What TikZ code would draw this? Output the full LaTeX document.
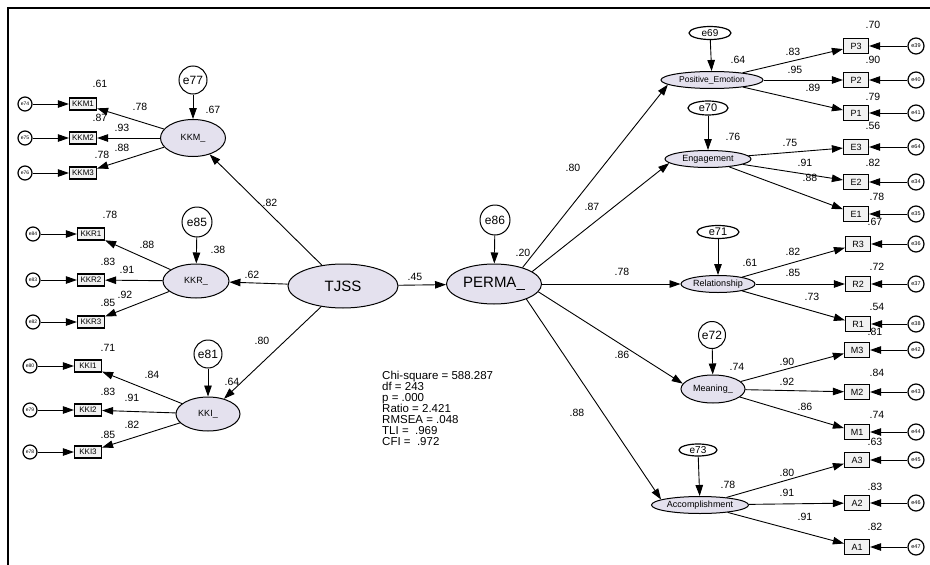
\documentclass[tikz,border=0pt]{standalone}
\usepackage{fontspec}
\setmainfont{Liberation Sans}
\usetikzlibrary{shapes.geometric}
\usetikzlibrary{arrows.meta}
\usetikzlibrary{positioning}
\definecolor{latfill}{RGB}{228,225,238}
\definecolor{boxfill}{RGB}{242,242,242}
\newcommand{\fsz}[2]{\fontsize{#1}{#2}\selectfont}

\begin{document}
\begin{tikzpicture}[x=1pt,y=-1pt,
	latent/.style={draw,ellipse,fill=latfill,line width=1pt,inner sep=0pt,font=\fsz{9}{9}},
	indl/.style={draw,rectangle,fill=boxfill,line width=1.2pt,minimum width=27pt,minimum height=12pt,inner sep=0pt,font=\fsz{8}{8}},
	indr/.style={draw,rectangle,fill=boxfill,line width=1.2pt,minimum width=25pt,minimum height=15pt,inner sep=0pt,font=\fsz{9}{9}},
	errc/.style={draw,circle,fill=white,line width=1.2pt,minimum size=14pt,inner sep=0pt,font=\fsz{5}{5}},
	errbig/.style={draw,circle,fill=white,line width=1pt,inner sep=0pt,font=\fsz{12}{12}},
	erre/.style={draw,ellipse,fill=white,line width=1.2pt,inner sep=0pt,font=\fsz{10}{10}},
	arr/.style={-{Triangle[length=11pt,width=7.5pt]},line width=0.9pt},
	lbl/.style={font=\fsz{10.5}{10.5},inner sep=0pt}]
			\useasboundingbox (0,0) rectangle (930,565);
			\fill[white] (0,0) rectangle (930,565);
			\draw[line width=1.6pt] (8,565) -- (8,8) -- (930,8);
			
			% latent variables
			\node[latent,minimum width=110pt,minimum height=44pt,font=\fsz{15}{15}] (TJSS) at (343,286) {TJSS};
			\node[latent,minimum width=95pt,minimum height=40pt,font=\fsz{15}{15}] (PERMA) at (494,284) {PERMA\_};
			\node[latent,minimum width=65pt,minimum height=37pt] (KKM) at (193,138) {KKM\_};
			\node[latent,minimum width=66pt,minimum height=34pt] (KKR) at (196,281) {KKR\_};
			\node[latent,minimum width=64pt,minimum height=34pt] (KKI) at (208,414) {KKI\_};
			\node[latent,minimum width=102pt,minimum height=17pt,font=\fsz{8.5}{8.5}] (PE) at (712,80) {Positive\_Emotion};
			\node[latent,minimum width=86pt,minimum height=17pt] (EN) at (708,159) {Engagement};
			\node[latent,minimum width=74pt,minimum height=17pt] (RE) at (718,284) {Relationship};
			\node[latent,minimum width=64pt,minimum height=28pt] (ME) at (713,389) {Meaning\_};
			\node[latent,minimum width=97pt,minimum height=17pt] (AC) at (700,505) {Accomplishment};
			
			% residuals of the latent variables
			\node[errbig,minimum size=28pt] (e77) at (193,80) {e77};
			\node[errbig,minimum size=30pt] (e85) at (197,222) {e85};
			\node[errbig,minimum size=28pt] (e81) at (208,354) {e81};
			\node[errbig,minimum size=30pt] (e86) at (495,220) {e86};
			\node[errbig,minimum size=27pt] (e72) at (712,335) {e72};
			\node[erre,minimum width=42pt,minimum height=13pt] (e69) at (710,33) {e69};
			\node[erre,minimum width=40pt,minimum height=14pt,font=\fsz{11}{11}] (e70) at (708,108) {e70};
			\node[erre,minimum width=42pt,minimum height=13pt,font=\fsz{11}{11}] (e71) at (718,232) {e71};
			\node[erre,minimum width=38pt,minimum height=12pt] (e73) at (698,450) {e73};
			
			\draw[arr] (e77) -- (KKM);
			\draw[arr] (e85) -- (KKR);
			\draw[arr] (e81) -- (KKI);
			\draw[arr] (e86) -- (PERMA);
			\draw[arr] (e69) -- (PE);
			\draw[arr] (e70) -- (EN);
			\draw[arr] (e71) -- (RE);
			\draw[arr] (e72) -- (ME);
			\draw[arr] (e73) -- (AC);
			
			% structural paths
			\draw[arr] (TJSS) -- (PERMA);
			\draw[arr] (TJSS) -- (KKM);
			\draw[arr] (TJSS) -- (KKR);
			\draw[arr] (TJSS) -- (KKI);
			\draw[arr] (PERMA.30) -- (PE.186);
			\draw[arr] (PERMA.18) -- (EN.186);
			\draw[arr] (PERMA.east) -- (RE.west);
			\draw[arr] (PERMA.-10) -- (ME.170);
			\draw[arr] (PERMA.-25) -- (AC.172);
			
			% indicators, left
			\foreach \n/\y/\e in {1/104/e74,2/138/e75,3/173/e76}
			{
				\node[indl] (KKM\n) at (83,\y) {KKM\n};
				\node[errc] (eKKM\n) at (25,\y) {\e};
				\draw[arr] (eKKM\n) -- (KKM\n);
				\draw[arr] (KKM) -- (KKM\n);
			}
			\foreach \n/\y/\e in {1/234/e84,2/280/e83,3/322/e82}
			{
				\node[indl] (KKR\n) at (91,\y) {KKR\n};
				\node[errc] (eKKR\n) at (33,\y) {\e};
				\draw[arr] (eKKR\n) -- (KKR\n);
				\draw[arr] (KKR) -- (KKR\n);
			}
			\foreach \n/\y/\e in {1/366/e80,2/410/e79,3/452/e78}
			{
				\node[indl] (KKI\n) at (88,\y) {KKI\n};
				\node[errc] (eKKI\n) at (30,\y) {\e};
				\draw[arr] (eKKI\n) -- (KKI\n);
				\draw[arr] (KKI) -- (KKI\n);
			}
			
			% indicators, right
			\foreach \f/\l/\x/\list in {PE/P/856/{3/46/e39,2/80/e40,1/113/e41},
				EN/E/856/{3/147/e64,2/182/e34,1/214/e35},
				RE/R/858/{3/244/e36,2/284/e37,1/324/e38},
				ME/M/857/{3/350/e42,2/392/e43,1/432/e44},
				AC/A/857/{3/460/e45,2/503/e46,1/547/e47}}
			{
				\foreach \n/\y/\e in \list
				{
					\node[indr] (\l\n) at (\x,\y) {\l\n};
					\node[errc,minimum size=16pt,font=\fsz{5.5}{5.5}] (e\l\n) at (916,\y) {\e};
					\draw[arr] (e\l\n) -- (\l\n);
					\draw[arr] (\f) -- (\l\n);
				}
			}
			
			% estimates
			\foreach \x/\y/\t [count=\i] in {213/110/.67,100/84/.61,140/107/.78,100/118/.87,122/128/.93,
				122/148/.88,102/155/.78,270/203/.82,218/250/.38,110/215/.78,147/245/.88,108/262/.83,
				127/270/.91,125/295/.92,108/303/.85,252/275/.62,262/341/.80,232/382/.64,108/348/.71,
				152/375/.84,108/392/.83,132/398/.91,132/425/.82,108/435/.85,
				415/277/.45,523/253/.20,573/168/.80,592/207/.87,622/272/.78,622/355/.86,577/413/.88,
				738/60/.64,873/25/.70,793/52/.83,795/70/.95,873/60/.90,813/88/.89,873/97/.79,873/126/.56,
				733/137/.76,790/143/.75,805/163/.91,810/178/.88,873/163/.82,877/197/.78,875/222/.67,
				750/263/.61,793/252/.82,793/273/.85,812/297/.73,877/267/.72,877/307/.54,875/332/.81,
				737/367/.74,787/362/.90,787/382/.92,805/407/.86,877/373/.84,877/415/.74,875/442/.63,
				728/485/.78,787/473/.80,787/493/.91,805/517/.91,875/487/.83,875/527/.82}
			{
				\node[lbl] (est\i) at (\x,\y) {\t};
			}
			
			\node[anchor=north west,align=left,inner sep=0pt,font=\fsz{11.5}{11}] (fit) at (382,371)
				{Chi-square = 588.287\\df = 243\\p = .000\\Ratio = 2.421\\RMSEA = .048\\TLI = \ .969\\CFI = \ .972};
		\end{tikzpicture}
\end{document}
